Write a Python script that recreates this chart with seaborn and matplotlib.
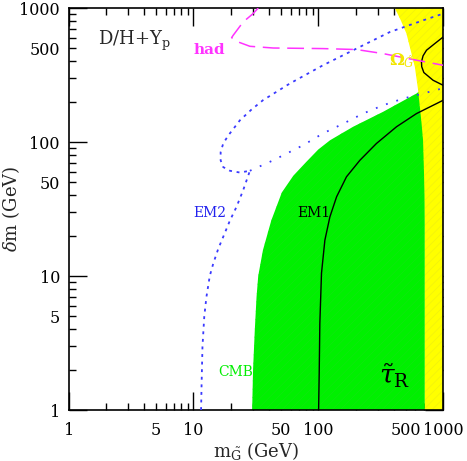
"""
Gravitino / stau NLSP constraints in the (m_G, delta m) plane.
"""
import matplotlib
matplotlib.use('Agg')
import matplotlib.pyplot as plt
import seaborn as sns
import pandas as pd
from matplotlib.ticker import FixedLocator, FuncFormatter

# --- Data (GeV) ---
# CMB excluded region (green)
green_x = [29.5, 30, 31, 32, 33, 36, 42, 51, 63, 80, 100, 124, 190, 330, 611, 640, 713, 713]
green_y = [1, 2, 4, 7, 10, 15.6, 26, 42, 56, 71, 88, 103, 130, 168, 230, 238, 238, 1]

# Omega_G overclosure region (yellow), left boundary
yel_x = [410, 460, 508, 550, 593, 630, 670, 690, 700, 710, 713, 713]
yel_y = [1000, 800, 644, 480, 363, 243, 140, 103, 65, 40, 25, 1]

# EM1 (black solid)
em1_x = [100.5, 101.6, 102.8, 106, 112.8, 123.7, 140, 168, 215, 292, 423, 611, 1000]
em1_y = [1, 1.88, 4.43, 10.5, 18.5, 27.6, 39, 55, 73, 97.5, 130, 163, 205]
em1c_x = [1000, 855, 735, 690, 670, 673, 700, 830, 1000]
em1c_y = [608, 542, 484, 440, 396, 365, 330, 289, 265]

# EM2 (blue dotted)
em2_x = [11.5, 11.6, 11.8, 12.2, 12.7, 13.5, 14.4, 15.8, 17.3, 19.6, 22.1, 25, 28.3,
         23.5, 19.6, 17.3, 16.5, 16.5, 17.3, 19, 21.5, 23.5, 29, 36, 59, 109, 202,
         374, 690, 1000]
em2_y = [1, 1.5, 2.97, 5, 7, 10, 12.4, 16, 19.6, 26, 32.8, 43.7, 61,
         59.2, 61, 65, 73, 84, 97.5, 112, 130, 145, 174, 205, 273, 374, 498,
         662, 809, 908]
em2b_x = [28.3, 43.5, 75.5, 109, 158, 228, 330, 478, 690, 857, 1000]
em2b_y = [61, 73, 94.6, 116, 137, 163, 188, 211, 230, 243, 252]

# hadronic (magenta dashed)
had_x = [33, 30, 25, 20.8, 20.2, 22.8, 28.3, 43.5, 109, 202, 330, 611, 1000]
had_y = [1000, 908, 787, 626, 601, 558, 518, 503, 498, 490, 457, 408, 374]

x_ticks = [1, 5, 10, 50, 100, 500, 1000]
y_ticks = [1, 5, 10, 50, 100, 500, 1000]

# --- Style ---
sns.set_theme(style='ticks')
plt.rcParams['font.family'] = ['DejaVu Serif']
plt.rcParams['mathtext.fontset'] = 'dejavuserif'
plt.rcParams['hatch.linewidth'] = 0.4

fig = plt.figure(figsize=(4.67, 4.61), dpi=100)
ax = fig.add_axes([0.147, 0.1106, 0.802, 0.872])
ax.set_xscale('log')
ax.set_yscale('log')

# regions
ax.fill(green_x, green_y, facecolor='#00f000', edgecolor='#12e612',
        hatch='////', linewidth=0, zorder=1)
ax.fill_betweenx(yel_y, yel_x, 1000, facecolor='#ffff00', edgecolor='#eeee10',
                 hatch='////', linewidth=0, zorder=2)

# curves
def curve(xs, ys, **kw):
    df = pd.DataFrame({'x': xs, 'y': ys})
    sns.lineplot(data=df, x='x', y='y', sort=False, estimator=None, ax=ax,
                 zorder=3, **kw)

curve(em1_x, em1_y, color='black', linewidth=1.0)
curve(em1c_x, em1c_y, color='black', linewidth=1.0)
curve(em2_x, em2_y, color='#3a3aff', linewidth=1.3, linestyle=(0, (1.6, 2.6)))
curve(em2b_x, em2b_y, color='#3a3aff', linewidth=1.3, linestyle=(0, (1.0, 5.0)))
curve(had_x, had_y, color='#ff33ff', linewidth=1.1, linestyle=(0, (11, 5)))

# labels inside
ax.text(1.726, 527, 'D/H+Y$_{\\rm p}$', fontsize=13, ha='left', va='baseline')
ax.text(9.95, 457, 'had', fontsize=11, color='#ff33ff', fontweight='bold',
        ha='left', va='baseline')
ax.text(9.95, 27.4, 'EM2', fontsize=10, color='#2222ee', ha='left', va='baseline')
ax.text(67.7, 27.4, 'EM1', fontsize=10, color='black', ha='left', va='baseline')
ax.text(15.8, 1.80, 'CMB', fontsize=10, color='#00ee00', ha='left', va='baseline')
ax.text(366, 374, r'$\mathbf{\Omega}_{\tilde{G}}$', fontsize=12, color='#f2e600',
        ha='left', va='baseline')
ax.text(307, 1.58, r'$\tilde{\tau}_{\rm R}$', fontsize=19, color='black',
        ha='left', va='baseline')

# axes, ticks
ax.set_xlim(1, 1000)
ax.set_ylim(1, 1000)
major = [1, 10, 100, 1000]
minor = [m * d for d in [1, 10, 100] for m in range(2, 10)]
fmt = FuncFormatter(lambda v, p: f'{v:g}' if round(v) in x_ticks else '')
for axis in (ax.xaxis, ax.yaxis):
    axis.set_major_locator(FixedLocator(major))
    axis.set_minor_locator(FixedLocator(minor))
    axis.set_major_formatter(fmt)
    axis.set_minor_formatter(fmt)
ax.tick_params(which='both', direction='in', top=True, right=True,
               colors='black', labelsize=11.5, width=1.0)
ax.tick_params(which='major', length=12.7)
ax.tick_params(which='minor', length=5)
ax.tick_params(axis='x', which='both', pad=8.4)
ax.tick_params(axis='y', which='both', pad=6.3)
for s in ax.spines.values():
    s.set_linewidth(1.2)
    s.set_color('black')

ax.set_xlabel(r'm$_{\tilde{\rm G}}$ (GeV)', fontsize=13)
ax.set_ylabel(r'$\delta$m (GeV)', fontsize=13)
ax.xaxis.set_label_coords(0.5, -0.075)
ax.yaxis.set_label_coords(-0.125, 0.5)

fig.savefig('out.png', dpi=100)
